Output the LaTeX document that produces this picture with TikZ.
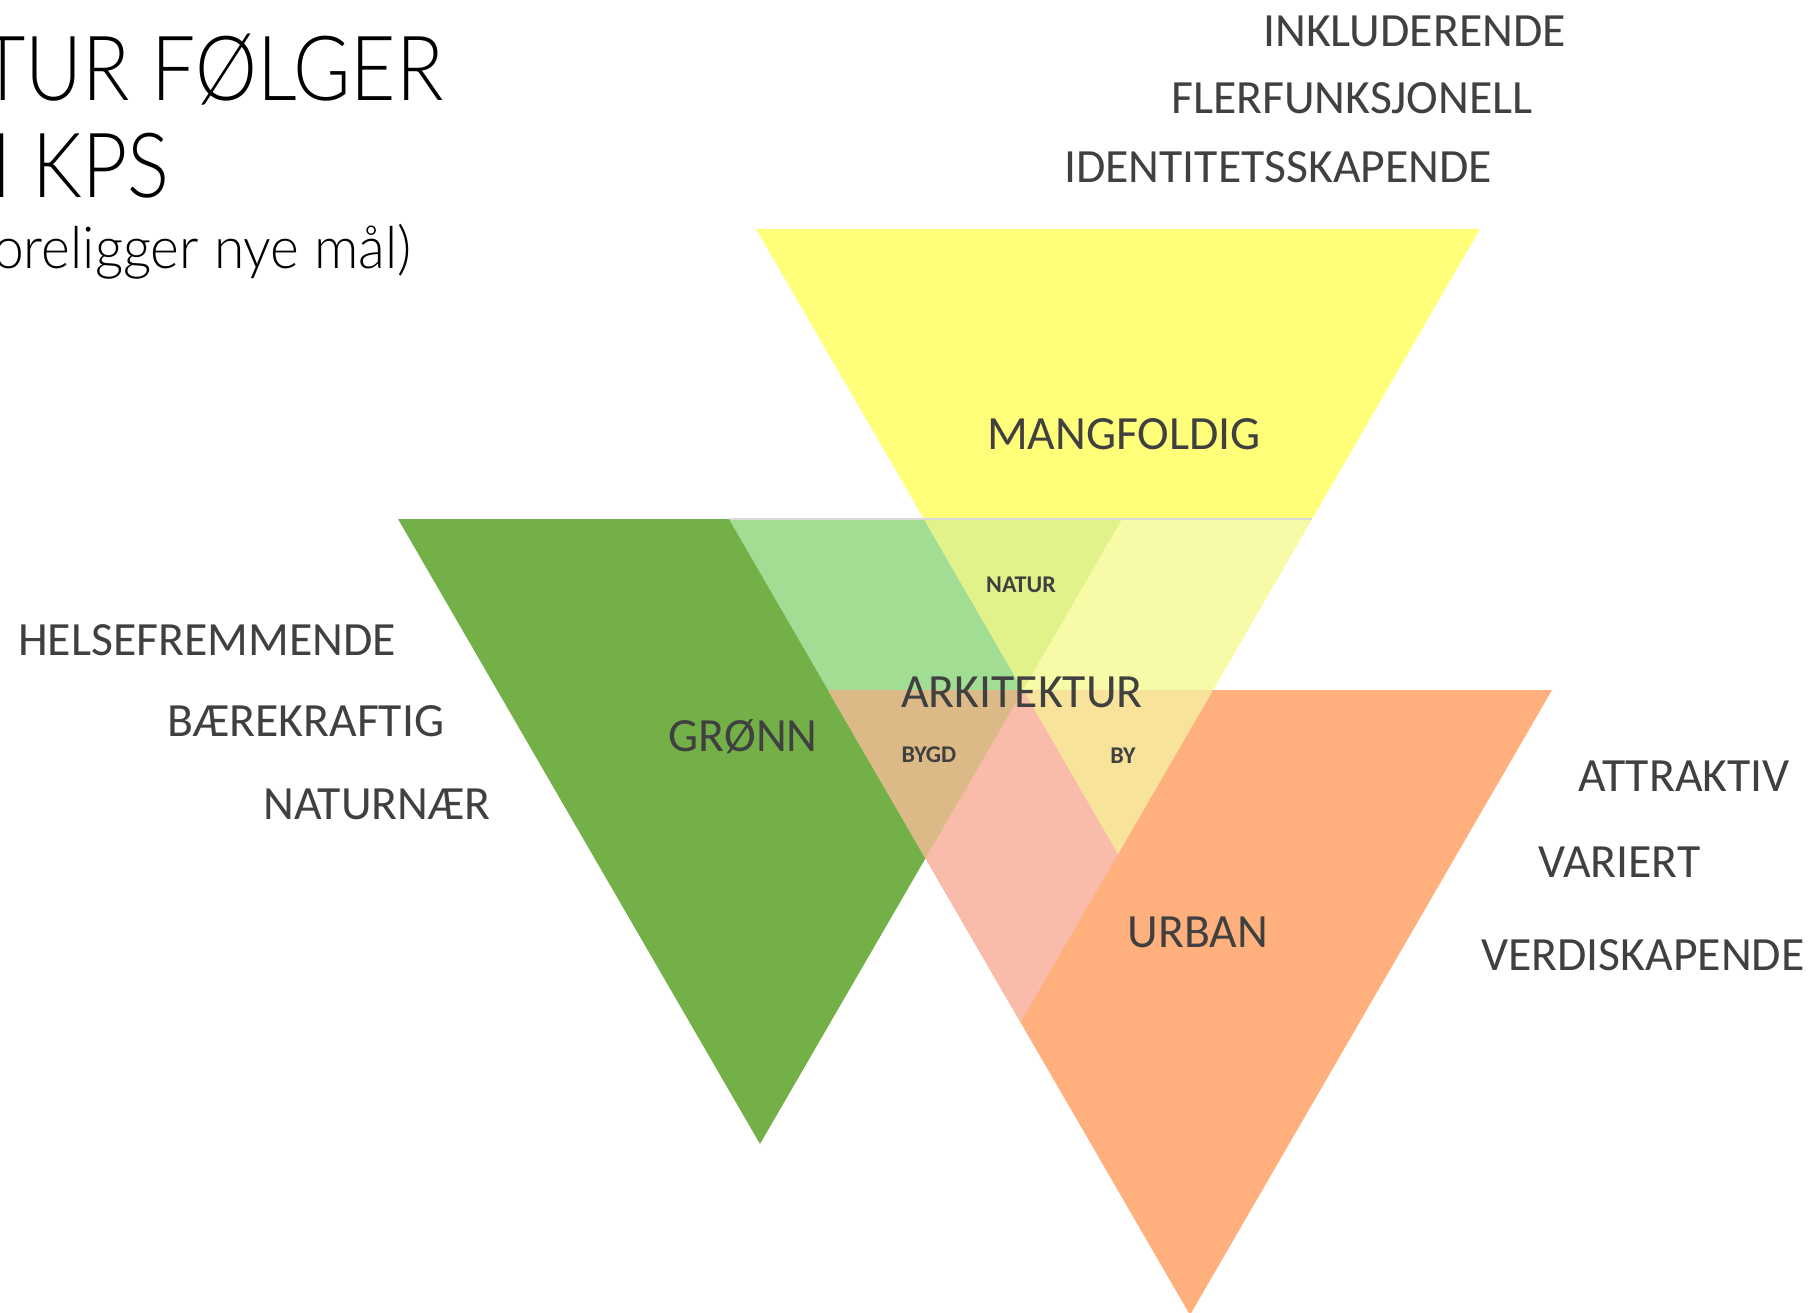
\documentclass[tikz,border=0pt]{standalone}
\usepackage{fontspec}
\setmainfont{Carlito}
\newfontfamily\ttlfont{Lato Light}
\definecolor{yelC}{RGB}{255,255,122}
\definecolor{grnC}{RGB}{116,176,72}
\definecolor{orgC}{RGB}{255,176,124}
\definecolor{lgrnC}{RGB}{161,222,148}
\definecolor{lyelC}{RGB}{247,251,168}
\definecolor{pinkC}{RGB}{249,187,170}
\definecolor{naturC}{RGB}{226,242,139}
\definecolor{bygdC}{RGB}{220,186,136}
\definecolor{byC}{RGB}{248,227,154}
\definecolor{labelgrey}{RGB}{64,64,64}
\definecolor{seamC}{RGB}{218,218,218}
\begin{document}
\begin{tikzpicture}[x=1pt,y=-1pt,
  lbl/.style={inner sep=0pt, text=labelgrey, font=\fontsize{47.7}{56}\selectfont, text height=30pt, text depth=0pt},
  smalllbl/.style={inner sep=0pt, text=labelgrey, font=\fontsize{24}{28}\selectfont\bfseries, text height=15pt, text depth=0pt},
  ttl/.style={inner sep=0pt, text=black, anchor=base east}]
\useasboundingbox (0,0) rectangle (1809,1312);
\clip (0,0) rectangle (1809,1312);
% triangle corners
\coordinate (Y1) at (756,229); \coordinate (Y2) at (1480,229); \coordinate (Y3) at (1118,854);
\coordinate (G1) at (398,519); \coordinate (G2) at (1122,519); \coordinate (G3) at (760,1144);
\coordinate (O1) at (828,690); \coordinate (O2) at (1552,690); \coordinate (O3) at (1190,1315);
\coordinate (C1) at (728.96,519); \coordinate (C2) at (1312.03,519); \coordinate (C3) at (1020.5,1022.3);
% base triangles
\fill[yelC] (Y1)--(Y2)--(Y3)--cycle;
\fill[grnC] (G1)--(G2)--(G3)--cycle;
\fill[orgC] (O1)--(O2)--(O3)--cycle;
% lightened central region
\begin{scope}
  \clip (C1)--(C2)--(C3)--cycle;
  \fill[lgrnC] (G1)--(G2)--(G3)--cycle;
  \fill[lyelC] (Y1)--(Y2)--(Y3)--cycle;
  \fill[pinkC] (O1)--(O2)--(O3)--cycle;
  \begin{scope}
    \clip (G1)--(G2)--(G3)--cycle;
    \fill[naturC] (Y1)--(Y2)--(Y3)--cycle;
    \fill[bygdC] (O1)--(O2)--(O3)--cycle;
  \end{scope}
  \begin{scope}
    \clip (Y1)--(Y2)--(Y3)--cycle;
    \fill[byC] (O1)--(O2)--(O3)--cycle;
  \end{scope}
\end{scope}
\draw[seamC, line width=1.5pt] (C1)--(C2);
% title
\node[ttl, font=\ttlfont\fontsize{90}{100}\selectfont] (t1) at (444,100) {\scalebox{0.87}[1]{TUR FØLGER}};
\node[ttl, font=\ttlfont\fontsize{90}{100}\selectfont] (t2) at (170,197) {\scalebox{0.87}[1]{I KPS}};
\node[ttl, font=\ttlfont\fontsize{58}{64}\selectfont] (t3) at (412,268) {\scalebox{0.95}[1]{oreligger nye mål)}};
% top right
\node[lbl, anchor=west] (inkl) at (1263,31) {INKLUDERENDE};
\node[lbl, anchor=west] (fler) at (1171,98) {FLERFUNKSJONELL};
\node[lbl, anchor=west] (iden) at (1064,167) {IDENTITETSSKAPENDE};
% left
\node[lbl, anchor=west] (hels) at (18,640) {HELSEFREMMENDE};
\node[lbl, anchor=west] (baer) at (167,721) {BÆREKRAFTIG};
\node[lbl, anchor=west] (natn) at (263,804) {NATURNÆR};
% right
\node[lbl, anchor=west] (attr) at (1578,776) {ATTRAKTIV};
\node[lbl, anchor=west] (vari) at (1538,862) {VARIERT};
\node[lbl, anchor=west] (verd) at (1481,955) {VERDISKAPENDE};
% triangle labels
\node[lbl] (mang) at (1124,434) {MANGFOLDIG};
\node[lbl] (gron) at (743,736) {GRØNN};
\node[lbl] (urb) at (1198,932) {URBAN};
\node[lbl] (arki) at (1022,692) {ARKITEKTUR};
\node[smalllbl] (natur) at (1021,585) {NATUR};
\node[smalllbl] (bygd) at (929,755) {BYGD};
\node[smalllbl] (by) at (1123,756) {BY};
\end{tikzpicture}
\end{document}
